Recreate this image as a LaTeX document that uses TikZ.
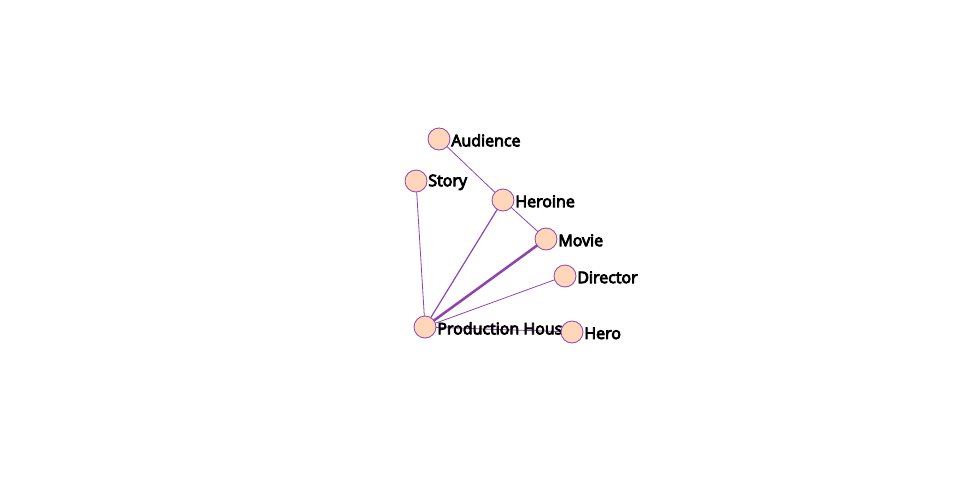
\documentclass[tikz,border=0pt]{standalone}
\usepackage{fontspec}
\setmainfont{Open Sans}
\newfontfamily\lblfont{Open Sans}[FakeBold=5]
\usepackage{tikz}

\definecolor{nodefill}{HTML}{FFD6BA}
\definecolor{edgepurple}{HTML}{8E44AD}

\tikzset{
  ent/.style={circle, draw=edgepurple, fill=nodefill, line width=0.6pt,
    minimum size=16.5pt, inner sep=0pt},
  lbl/.style={inner sep=0.5pt, yshift=-1pt, font=\fontsize{12}{14}\lblfont},
  link/.style={draw=edgepurple, line width=0.6pt},
}

\begin{document}
\begin{tikzpicture}[x=0.75pt, y=-0.75pt]
				\useasboundingbox (0,0) rectangle (960,500);
				
				\coordinate (caud) at (439,139);
				\coordinate (cstory) at (416,181);
				\coordinate (cheroine) at (503,200);
				\coordinate (cmovie) at (546,239);
				\coordinate (cdirector) at (565,276);
				\coordinate (cprod) at (425,327);
				\coordinate (chero) at (572,332);
				
				\draw[link] (caud) -- (cheroine);
				\draw[link] (cstory) -- (cprod);
				\draw[link, line width=0.9pt] (cheroine) -- (cprod);
				\draw[link] (cheroine) -- (cmovie);
				\draw[link, line width=1.9pt] (cmovie) -- (cprod);
				\draw[link] (cdirector) -- (cprod);
				\draw[link] (chero) -- (cprod);
				
				\node[ent, label={[lbl]east:Audience}] (aud) at (caud) {};
				\node[ent, label={[lbl]east:Story}] (story) at (cstory) {};
				\node[ent, label={[lbl]east:Heroine}] (heroine) at (cheroine) {};
				\node[ent, label={[lbl]east:Movie}] (movie) at (cmovie) {};
				\node[ent, label={[lbl]east:Director}] (director) at (cdirector) {};
				\node[ent, label={[lbl]east:Production House}] (prod) at (cprod) {};
				\node[ent, label={[lbl]east:Hero}] (hero) at (chero) {};
			\end{tikzpicture}
\end{document}
